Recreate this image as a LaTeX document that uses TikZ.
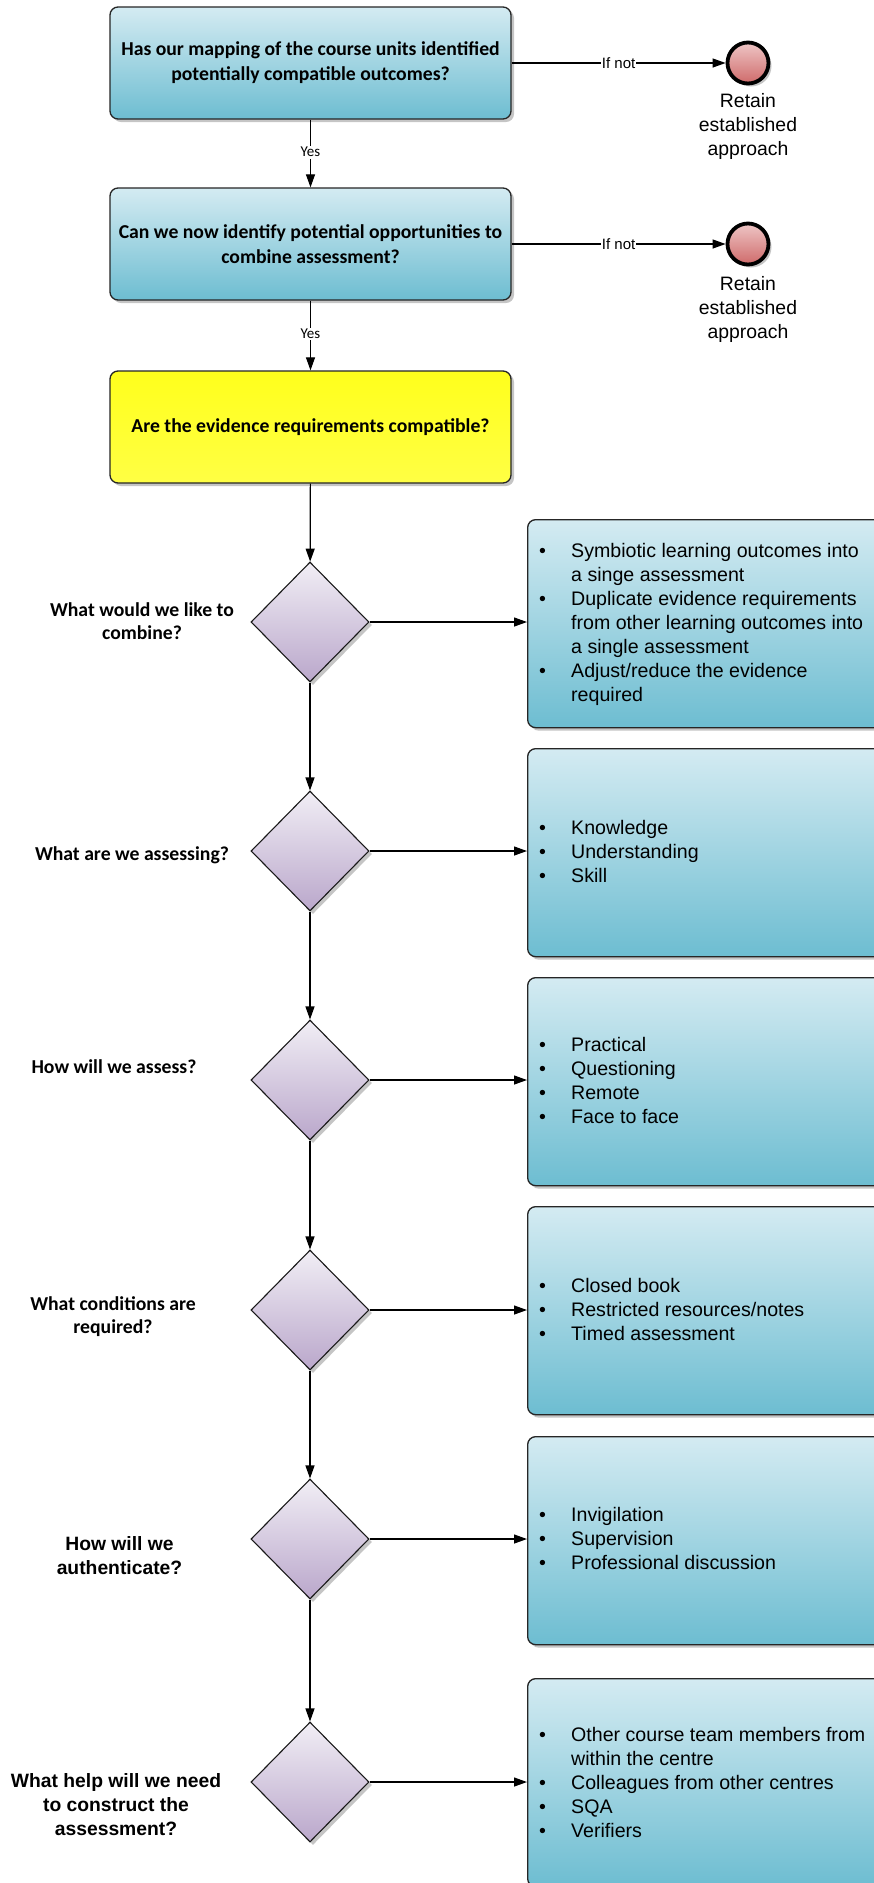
\documentclass[tikz,border=0pt]{standalone}
\usepackage{fontspec}
\setmainfont{Liberation Sans}
\newfontfamily\calfont{Carlito}
\usetikzlibrary{shapes.geometric,shadows,arrows.meta}
\definecolor{bluetop}{HTML}{D4EBF2}
\definecolor{bluebot}{HTML}{6DBDD1}
\definecolor{yeltop}{HTML}{FFFF1C}
\definecolor{yelbot}{HTML}{FFFF44}
\definecolor{diatop}{HTML}{F1EEF5}
\definecolor{diabot}{HTML}{BAA7CB}
\definecolor{redtop}{HTML}{EEC6C6}
\definecolor{redbot}{HTML}{CF6A6A}
\newcommand\bitem[1]{\makebox[32pt][l]{\textbullet}#1}
\newcommand\bcont[1]{\hspace*{32pt}#1}
\tikzset{
  shad/.style={drop shadow={shadow xshift=3pt,shadow yshift=-3pt,fill=black!50,opacity=0.45}},
  qbox/.style={shad,draw=black!85,line width=1.3pt,rounded corners=8pt,top color=bluetop,bottom color=bluebot,
    minimum width=401pt,minimum height=112pt,inner sep=0pt,align=center,
    font=\calfont\bfseries\fontsize{19.7}{25}\selectfont},
  ybox/.style={qbox,top color=yeltop,bottom color=yelbot},
  abox/.style={shad,draw=black!85,line width=1.3pt,rounded corners=8pt,top color=bluetop,bottom color=bluebot,
    minimum width=373pt,minimum height=208pt,inner sep=0pt,anchor=north west},
  dia/.style={shad,shape=diamond,draw=black!90,line width=1.1pt,minimum width=118pt,minimum height=120pt,
    inner sep=0pt,top color=diatop,bottom color=diabot},
  endc/.style={shad,circle,draw=black,line width=3.8pt,minimum size=41pt,inner sep=0pt,top color=redtop,bottom color=redbot},
  retain/.style={align=center,inner sep=0pt,font=\fontsize{19.4}{24}\selectfont},
  blist/.style={anchor=west,inner sep=0pt,align=left,font=\fontsize{19.6}{24}\selectfont},
  qlbl/.style={align=center,inner sep=0pt,font=\calfont\bfseries\fontsize{19.7}{23}\selectfont},
  albl/.style={align=center,inner sep=0pt,font=\bfseries\fontsize{19.3}{24}\selectfont},
  arr/.style={line width=1.2pt,-{Triangle[length=13pt,width=9pt]}},
  ylbl/.style={fill=white,inner sep=1.5pt,font=\calfont\fontsize{15}{17}\selectfont},
  nlbl/.style={fill=white,inner sep=1pt,font=\fontsize{15}{17}\selectfont},
}
\begin{document}
\begin{tikzpicture}[x=1pt,y=-1pt]
\useasboundingbox (0,0) rectangle (874,1883);
\clip (0,0) rectangle (874,1883);
\fill[white] (0,0) rectangle (874,1883);

% top boxes
\node[qbox] (q1) at (310.5,63) {Has our mapping of the course units identified\\potentially compatible outcomes?};
\node[qbox] (q2) at (310.5,244) {Can we now identify potential opportunities to\\combine assessment?};
\node[ybox] (q3) at (310.5,427) {Are the evidence requirements compatible?};

% end events
\node[endc] (e1) at (748,63) {};
\node[endc] (e2) at (748,244) {};
\node[retain] (r1) at (748,126.5) {Retain\\established\\approach};
\node[retain] (r2) at (748,309.5) {Retain\\established\\approach};

\draw[arr] (q1) -- node[nlbl]{If not} (e1);
\draw[arr] (q2) -- node[nlbl]{If not} (e2);
\draw[arr] (q1) -- node[ylbl,pos=0.48]{Yes} (q2);
\draw[arr] (q2) -- node[ylbl,pos=0.48]{Yes} (q3);

% diamonds
\node[dia] (d1) at (310,622) {};
\node[dia] (d2) at (310,851) {};
\node[dia] (d3) at (310,1080) {};
\node[dia] (d4) at (310,1310) {};
\node[dia] (d5) at (310,1539) {};
\node[dia] (d6) at (310,1782) {};

\draw[arr] (q3) -- (d1);
\draw[arr] (d1) -- (d2);
\draw[arr] (d2) -- (d3);
\draw[arr] (d3) -- (d4);
\draw[arr] (d4) -- (d5);
\draw[arr] (d5) -- (d6);

% answer boxes
\node[abox] (b1) at (527,519) {};
\node[abox] (b2) at (527,748) {};
\node[abox] (b3) at (527,977) {};
\node[abox] (b4) at (527,1206) {};
\node[abox] (b5) at (527,1436) {};
\node[abox] (b6) at (527,1678) {};

\draw[arr] (d1) -- (d1 -| b1.west);
\draw[arr] (d2) -- (d2 -| b2.west);
\draw[arr] (d3) -- (d3 -| b3.west);
\draw[arr] (d4) -- (d4 -| b4.west);
\draw[arr] (d5) -- (d5 -| b5.west);
\draw[arr] (d6) -- (d6 -| b6.west);

\node[blist] (t1) at (539,624) {\bitem{Symbiotic learning outcomes into}\\\bcont{a singe assessment}\\\bitem{Duplicate evidence requirements}\\\bcont{from other learning outcomes into}\\\bcont{a single assessment}\\\bitem{Adjust/reduce the evidence}\\\bcont{required}};
\node[blist] (t2) at (539,851) {\bitem{Knowledge}\\\bitem{Understanding}\\\bitem{Skill}};
\node[blist] (t3) at (539,1080) {\bitem{Practical}\\\bitem{Questioning}\\\bitem{Remote}\\\bitem{Face to face}};
\node[blist] (t4) at (539,1309) {\bitem{Closed book}\\\bitem{Restricted resources/notes}\\\bitem{Timed assessment}};
\node[blist] (t5) at (539,1538) {\bitem{Invigilation}\\\bitem{Supervision}\\\bitem{Professional discussion}};
\node[blist] (t6) at (539,1782) {\bitem{Other course team members from}\\\bcont{within the centre}\\\bitem{Colleagues from other centres}\\\bitem{SQA}\\\bitem{Verifiers}};

% question labels
\node[qlbl] (l1) at (142,621) {What would we like to\\combine?};
\node[qlbl] (l2) at (132,855) {What are we assessing?};
\node[qlbl] (l3) at (114,1067) {How will we assess?};
\node[qlbl] (l4) at (113,1317) {What conditions are\\required?};
\node[albl] (l5) at (119.5,1556) {How will we\\authenticate?};
\node[albl] (l6) at (116,1805) {What help will we need\\to construct the\\assessment?};
\end{tikzpicture}
\end{document}
